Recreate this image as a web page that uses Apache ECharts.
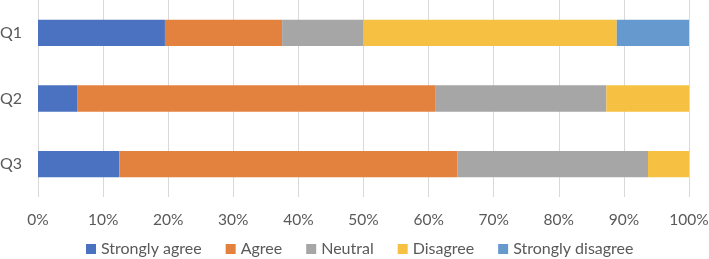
<!DOCTYPE html>
<html>
<head>
<meta charset="utf-8">
<script src="https://cdn.jsdelivr.net/npm/echarts@6.0.0/dist/echarts.min.js"></script>
<style>
  html, body { margin: 0; padding: 0; background: #fff; }
  #chart { width: 709px; height: 259px; }
</style>
</head>
<body>
<div id="chart"></div>
<script>
// questions, top to bottom
const questions = ['Q1', 'Q2', 'Q3'];
const answerNames = ['Strongly agree', 'Agree', 'Neutral', 'Disagree', 'Strongly disagree'];

// share of answers in percent, one array per answer
const stronglyAgree = [19.5, 6.0, 12.5];
const agree = [18.0, 55.1, 51.9];
const neutral = [12.5, 26.2, 29.3];
const disagree = [38.9, 12.7, 6.3];
const stronglyDisagree = [11.1, 0, 0];

const tickLabels = ['0%', '10%', '20%', '30%', '40%', '50%', '60%', '70%', '80%', '90%', '100%'];

const colors = ['#4a72c0', '#e3823f', '#a6a6a6', '#f6c143', '#669acf'];
const font = 'Lato, "Open Sans", sans-serif';

const seriesValues = [stronglyAgree, agree, neutral, disagree, stronglyDisagree];

const chart = echarts.init(document.getElementById('chart'), null, { renderer: 'canvas' });

chart.setOption({
  animation: false,
  color: colors,
  textStyle: { fontFamily: font },
  grid: { left: 38, right: 20, top: 0, bottom: 62, containLabel: false, outerBoundsMode: 'none' },
  legend: {
    bottom: 2,
    left: 86,
    padding: 0,
    icon: 'rect',
    itemWidth: 10,
    itemHeight: 10,
    itemGap: 24,
    textStyle: { color: '#595959', fontSize: 16, fontFamily: font },
    data: answerNames
  },
  xAxis: {
    type: 'value',
    min: 0,
    max: 100,
    interval: 10,
    axisLine: { show: false },
    axisTick: { show: false },
    splitLine: { lineStyle: { color: '#d9d9d9', width: 1 } },
    axisLabel: {
      color: '#595959',
      fontSize: 15.5,
      margin: 15,
      formatter: (v) => tickLabels[Math.round(v / 10)]
    }
  },
  yAxis: {
    type: 'category',
    inverse: true,
    data: questions,
    axisLine: { show: false },
    axisTick: { show: false },
    axisLabel: { color: '#595959', fontSize: 16, margin: 16 }
  },
  series: answerNames.map((name, i) => ({
    name: name,
    type: 'bar',
    stack: 'total',
    barWidth: '40%',
    data: seriesValues[i]
  }))
});
</script>
</body>
</html>
